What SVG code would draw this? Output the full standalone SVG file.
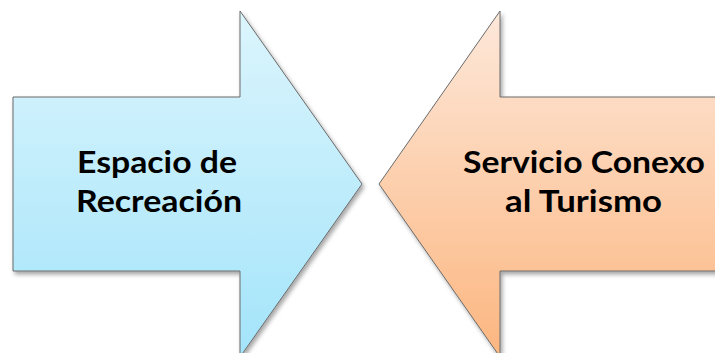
<svg xmlns="http://www.w3.org/2000/svg" width="715" height="353" viewBox="0 0 715 353">
<style>
.arrow{stroke:#6b6b6b;stroke-width:1;filter:url(#sh)}
.lbl{font-family:Lato,"Liberation Sans",Arial,sans-serif;font-weight:bold;font-size:31px;fill:#000;text-anchor:middle}
</style>
<defs>
<linearGradient id="gBlue" gradientUnits="userSpaceOnUse" x1="0" y1="11" x2="0" y2="357">
<stop offset="0" stop-color="#dcf5fd"/>
<stop offset="1" stop-color="#a3e4fa"/>
</linearGradient>
<linearGradient id="gOrange" gradientUnits="userSpaceOnUse" x1="0" y1="11" x2="0" y2="357">
<stop offset="0" stop-color="#fde8da"/>
<stop offset="1" stop-color="#fcb680"/>
</linearGradient>
<filter id="sh" x="-10%" y="-10%" width="130%" height="130%">
<feDropShadow dx="2" dy="3" stdDeviation="2" flood-color="#000" flood-opacity="0.35"/>
</filter>
</defs>
<g id="node-left">
<path class="arrow" fill="url(#gBlue)" d="M13,97 L240,97 L240,11 L362,184 L240,357 L240,271 L13,271 Z"/>
<text class="lbl" x="157" y="173" textLength="160" lengthAdjust="spacingAndGlyphs">Espacio de</text>
<text class="lbl" x="159" y="212" textLength="166" lengthAdjust="spacingAndGlyphs">Recreación</text>
</g>
<g id="node-right">
<path class="arrow" fill="url(#gOrange)" d="M730,97 L500,97 L500,11 L379,184 L500,357 L500,271 L730,271 Z"/>
<text class="lbl" x="584" y="173" textLength="242" lengthAdjust="spacingAndGlyphs">Servicio Conexo</text>
<text class="lbl" x="583.5" y="212" textLength="157" lengthAdjust="spacingAndGlyphs">al Turismo</text>
</g>
<g id="connectors"></g>
</svg>
